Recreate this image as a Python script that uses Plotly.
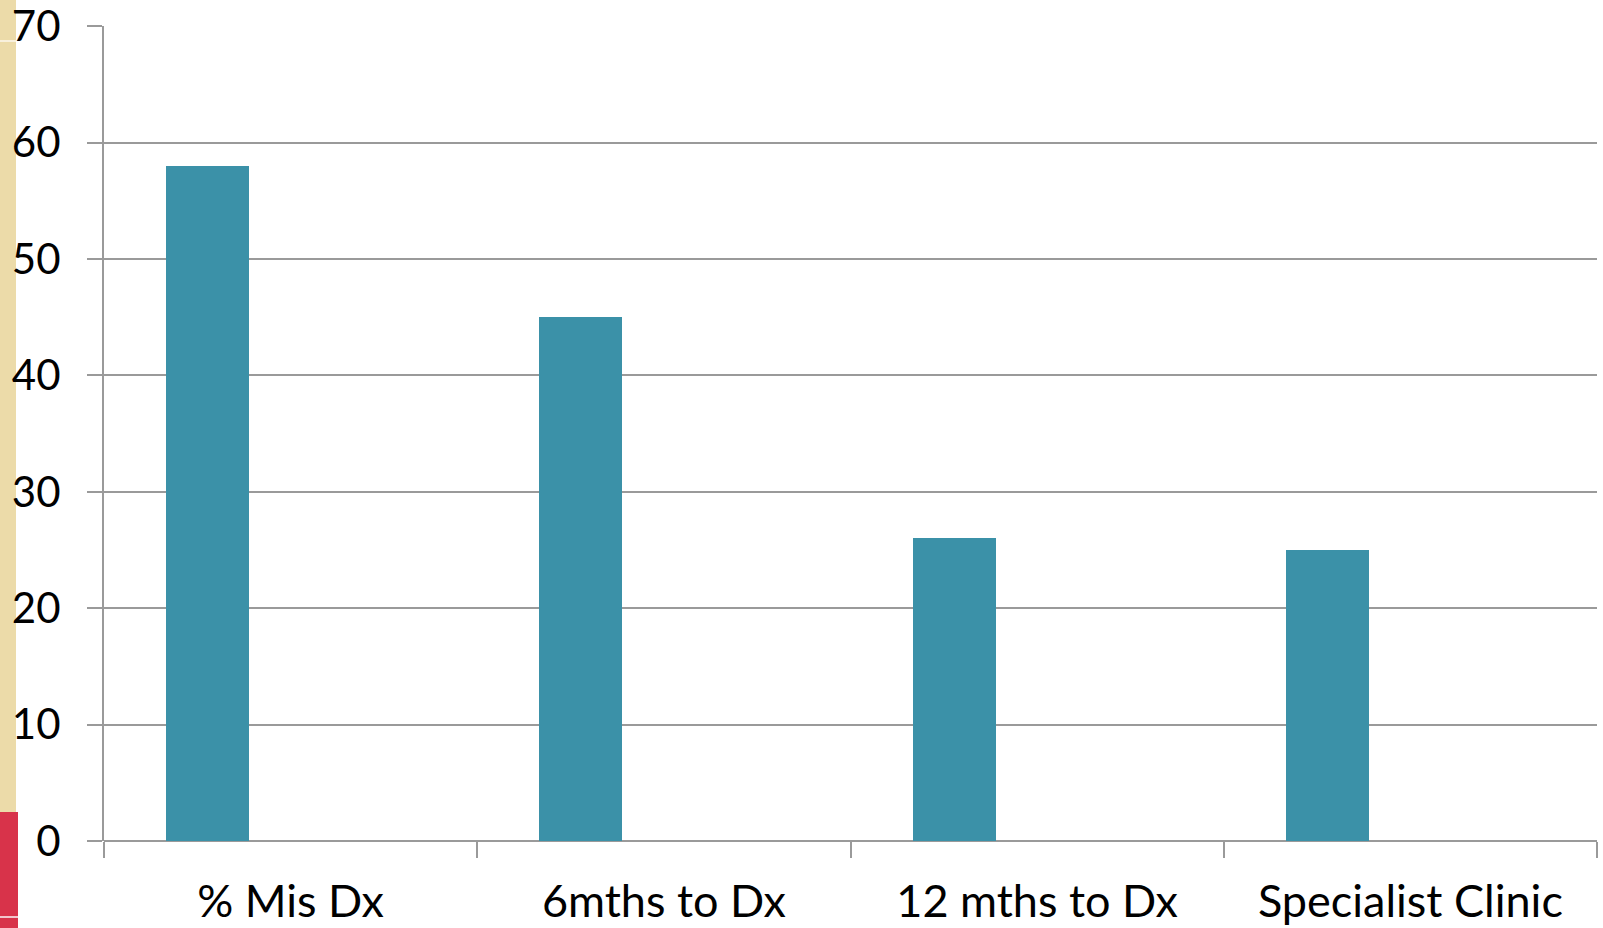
import plotly.graph_objects as go

# Chart data
categories = ["% Mis Dx", "6mths to Dx", "12 mths to Dx", "Specialist Clinic"]
values = [58, 45, 26, 25]
y_ticks = [0, 10, 20, 30, 40, 50, 60, 70]
y_tick_labels = ["0", "10", "20", "30", "40", "50", "60", "70"]

BAR_COLOR = "#3b91a8"
GRID_COLOR = "#9a9a9a"
FONT = "Lato, 'Open Sans', sans-serif"

fig = go.Figure()

# First slot of a three-wide group: the bar sits left of the category centre
fig.add_trace(go.Bar(
    x=categories,
    y=values,
    marker=dict(color=BAR_COLOR, line=dict(width=0)),
    width=2 / 9,
    offset=-1 / 3,
    showlegend=False,
    hoverinfo="x+y",
))

# Decorative slide edge: beige strip and red badge on the far left
edge_shapes = [
    dict(type="rect", x0=-104, x1=-88, y0=29, y1=841,
         fillcolor="#ecdba9", line=dict(width=0)),
    dict(type="rect", x0=-104, x1=-86, y0=-87, y1=29,
         fillcolor="#d8334a", line=dict(width=0)),
    dict(type="rect", x0=-104, x1=-86, y0=-77, y1=-75,
         fillcolor="#f2c6cc", line=dict(width=0)),
    dict(type="rect", x0=-104, x1=-88, y0=799, y1=801,
         fillcolor="#f8f0dc", line=dict(width=0)),
]
for s in edge_shapes:
    fig.add_shape(
        xref="paper", yref="paper",
        xsizemode="pixel", ysizemode="pixel",
        xanchor=0, yanchor=0,
        layer="below", **s,
    )

fig.update_layout(
    width=1603,
    height=928,
    autosize=False,
    margin=dict(l=104, r=6, t=26, b=87, pad=0),
    paper_bgcolor="white",
    plot_bgcolor="white",
    font=dict(family=FONT, size=45, color="black"),
    bargap=0,
    xaxis=dict(
        type="category",
        range=[-0.5, 3.5],
        automargin=False,
        showgrid=False,
        showline=False,
        zeroline=False,
        tickson="boundaries",
        ticks="outside",
        ticklen=16,
        tickwidth=2,
        tickcolor=GRID_COLOR,
        ticklabelstandoff=30,
        ticklabeloverflow="allow",
        tickfont=dict(family=FONT, size=45, color="black"),
        fixedrange=True,
    ),
    yaxis=dict(
        range=[0, 70.03],
        automargin=False,
        tickvals=y_ticks,
        ticktext=y_tick_labels,
        showgrid=True,
        gridcolor=GRID_COLOR,
        gridwidth=2,
        zeroline=True,
        zerolinecolor=GRID_COLOR,
        zerolinewidth=2,
        showline=True,
        linecolor=GRID_COLOR,
        linewidth=2,
        ticks="outside",
        ticklen=15,
        tickwidth=2,
        tickcolor=GRID_COLOR,
        ticklabelstandoff=18,
        ticklabeloverflow="allow",
        tickfont=dict(family=FONT, size=42, color="black"),
        fixedrange=True,
    ),
)

fig.write_html("out.html", config={"displayModeBar": False})
